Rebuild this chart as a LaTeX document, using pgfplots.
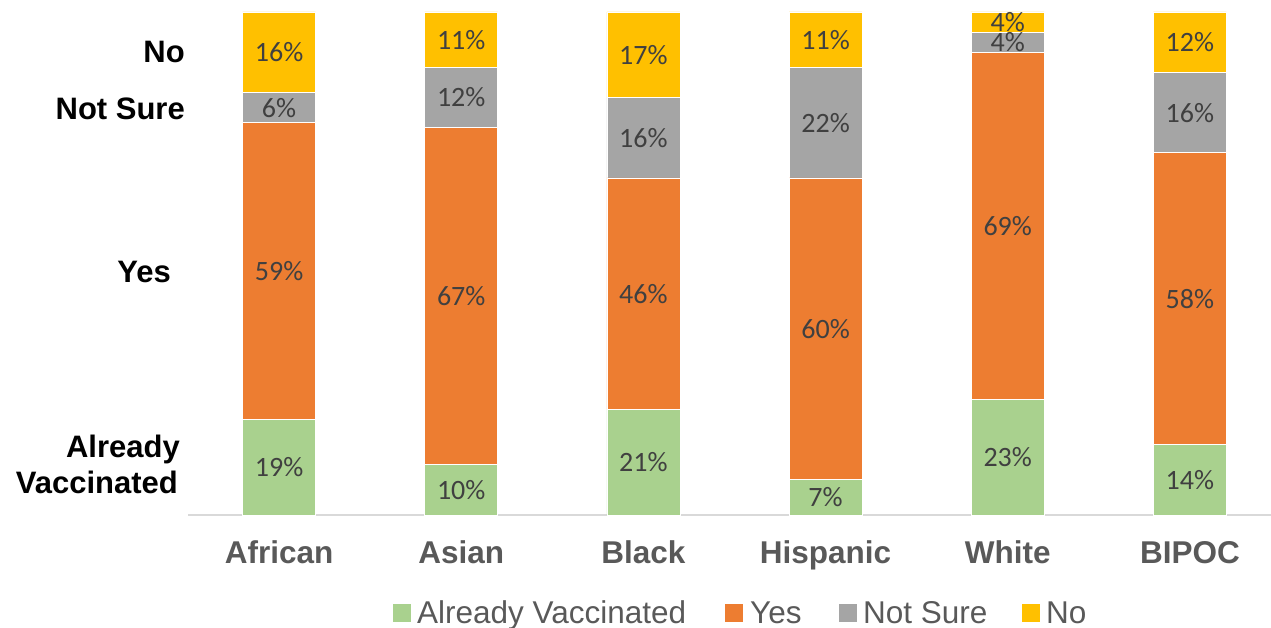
\documentclass[border=0pt]{standalone}
\usepackage{fontspec}
\setmainfont{Liberation Sans}
\newfontfamily\carlito{Carlito}
\usepackage{pgfplots}
\usepackage{pgfplotstable}
\pgfplotsset{compat=1.18}
\definecolor{cAV}{HTML}{A9D18E}
\definecolor{cYes}{HTML}{ED7D31}
\definecolor{cNS}{HTML}{A5A5A5}
\definecolor{cNo}{HTML}{FFC000}
\definecolor{lbl}{HTML}{404040}
\definecolor{tickc}{HTML}{595959}
\definecolor{axl}{HTML}{D9D9D9}

\pgfplotstableread{
x av yes ns no
0 19 59 6 16
1 10 67 12 11
2 21 46 16 17
3 7 60 22 11
4 23 69 4 4
5 14 58 16 12
}\datatable

\begin{document}
\begin{tikzpicture}[x=1pt,y=1pt]
\useasboundingbox (-188,-112) rectangle (1083,515);
\begin{axis}[
  at={(0,0)}, anchor=south west,
  scale only axis, width=1093pt, height=503pt,
  xmin=-0.5, xmax=5.5, ymin=0, ymax=100,
  enlargelimits=false, clip=false,
  ybar stacked, bar width=73pt,
  axis x line*=bottom, axis y line=none,
  axis line style={draw=axl, line width=1.5pt, -},
  xtick={0,1,2,3,4,5},
  xticklabels={African,Asian,Black,Hispanic,White,BIPOC},
  ytick=\empty,
  major tick length=0pt,
  x tick label style={font=\fontsize{31.5}{36}\selectfont\bfseries, text=tickc, anchor=base, yshift=-48pt, inner sep=0pt},
  nodes near coords={\pgfmathprintnumber[assume math mode=true]{\h}\%},
  every node near coord/.append style={font=\carlito\fontsize{28}{34}\selectfont, text=lbl, anchor=center},
]
\addplot[fill=cAV, draw=white, line width=0.8pt, visualization depends on={\thisrow{av} \as \h}] table[x=x,y=av]{\datatable};
\addplot[fill=cYes, draw=white, line width=0.8pt, visualization depends on={\thisrow{yes} \as \h}] table[x=x,y=yes]{\datatable};
\addplot[fill=cNS, draw=white, line width=0.8pt, visualization depends on={\thisrow{ns} \as \h}] table[x=x,y=ns]{\datatable};
\addplot[fill=cNo, draw=white, line width=0.8pt, visualization depends on={\thisrow{no} \as \h}] table[x=x,y=no]{\datatable};
\end{axis}
% left category annotations
\begin{scope}[every node/.style={inner sep=0pt, anchor=base east, font=\fontsize{31}{36}\selectfont\bfseries}]
\node at (-3,452) {No};
\node at (-3,395) {Not Sure};
\node at (-17,232) {Yes};
\node at (-8,58) {Already};
\node at (-10,22) {Vaccinated};
\end{scope}
% legend
\begin{scope}[every node/.style={inner sep=0pt, anchor=base west, text=tickc, font=\fontsize{31.5}{36}\selectfont}]
\fill[cAV] (205,-107) rectangle ++(18,18);
\node at (229,-108) {Already Vaccinated};
\fill[cYes] (537,-107) rectangle ++(18,18);
\node at (562,-108) {Yes};
\fill[cNS] (651,-107) rectangle ++(18,18);
\node at (675,-108) {Not Sure};
\fill[cNo] (834,-107) rectangle ++(18,18);
\node at (858,-108) {No};
\end{scope}
\end{tikzpicture}
\end{document}
